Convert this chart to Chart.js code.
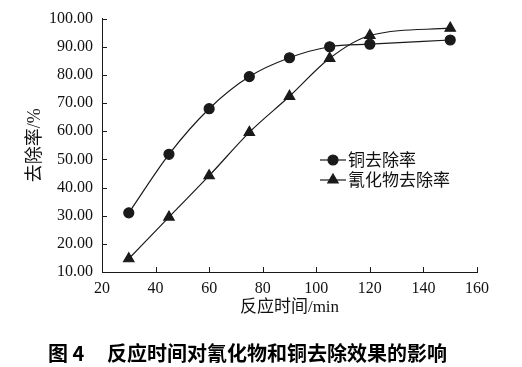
<!DOCTYPE html>
<html lang="zh">
  <head>
    <meta charset="UTF-8" />
    <title>反应时间对氰化物和铜去除效果的影响</title>
    <style>
      html, body { margin: 0; padding: 0; background: #fff; }
      #wrap { width: 522px; height: 367px; }
    </style>
  </head>
  <body>
    <div id="wrap"><canvas id="myChart" width="522" height="367"></canvas></div>
    <script src="https://cdn.jsdelivr.net/npm/chart.js"></script>
    <script>
      // reaction time, min
      const times = [30, 45, 60, 75, 90, 105, 120, 150];
      // removal rate, %
      const copperRate = [31.0, 51.8, 68.0, 79.4, 86.1, 90.0, 90.9, 92.4];
      const cyanideRate = [14.7, 29.5, 44.2, 59.6, 72.4, 85.9, 94.0, 96.6];
      const seriesNames = ["铜去除率", "氰化物去除率"];
      const xTicks = [20, 40, 60, 80, 100, 120, 140, 160];
      const yTicks = [10, 20, 30, 40, 50, 60, 70, 80, 90, 100];

      const serif = '"Liberation Serif", "Noto Sans CJK SC", serif';
      const ink = "#1a1a1a";

      const toPoints = (vals) => times.map((t, i) => ({ x: t, y: vals[i] }));

      // small inward ticks on both axes + legend inside the plot
      const decor = {
        id: "decor",
        afterDraw: (chart) => {
          const ctx = chart.ctx;
          const xs = chart.scales.x;
          const ys = chart.scales.y;
          const area = chart.chartArea;
          ctx.save();
          ctx.strokeStyle = ink;
          ctx.lineWidth = 1;
          ctx.beginPath();
          xTicks.forEach((v) => {
            const px = Math.round(xs.getPixelForValue(v)) + 0.5;
            ctx.moveTo(px, area.bottom);
            ctx.lineTo(px, area.bottom - 5);
          });
          yTicks.forEach((v) => {
            const py = Math.round(ys.getPixelForValue(v)) + 0.5;
            ctx.moveTo(area.left, py);
            ctx.lineTo(area.left + 5, py);
          });
          ctx.stroke();

          // legend
          const lx = 320;
          let ly = 160;
          chart.data.datasets.forEach((ds) => {
            ctx.strokeStyle = ink;
            ctx.lineWidth = 1.2;
            ctx.beginPath();
            ctx.moveTo(lx, ly);
            ctx.lineTo(lx + 26, ly);
            ctx.stroke();
            ctx.fillStyle = ink;
            Chart.helpers.drawPoint(
              ctx,
              { pointStyle: ds.pointStyle, radius: ds.pointRadius, rotation: 0, borderWidth: 1 },
              lx + 13,
              ly
            );
            ctx.fillStyle = "#111";
            ctx.font = '17px "Noto Sans CJK SC"';
            ctx.textBaseline = "middle";
            ctx.fillText(ds.label, lx + 28, ly);
            ly += 20;
          });
          ctx.restore();
        },
      };

      const ctx = document.getElementById("myChart").getContext("2d");
      let myChart = new Chart(ctx, {
        type: "line",
        plugins: [decor],
        data: {
          datasets: [
            {
              label: seriesNames[0],
              data: toPoints(copperRate),
              borderColor: ink,
              backgroundColor: ink,
              borderWidth: 1.2,
              pointStyle: "circle",
              pointRadius: 5,
              cubicInterpolationMode: "monotone",
            },
            {
              label: seriesNames[1],
              data: toPoints(cyanideRate),
              borderColor: ink,
              backgroundColor: ink,
              borderWidth: 1.2,
              pointStyle: "triangle",
              pointRadius: 6,
              cubicInterpolationMode: "monotone",
            },
          ],
        },
        options: {
          responsive: false,
          animation: false,
          layout: { padding: { left: 18, right: 45, top: 13, bottom: 0 } },
          scales: {
            x: {
              type: "linear",
              min: 20,
              max: 160,
              afterBuildTicks: (scale) => {
                scale.ticks = xTicks.map((v) => ({ value: v }));
              },
              afterFit: (scale) => {
                scale.height = 46;
              },
              grid: { display: false, drawTicks: false },
              border: { display: true, color: ink, width: 1 },
              ticks: { color: "#111", padding: 7, font: { family: serif, size: 16 } },
              title: {
                display: true,
                text: "反应时间/min",
                color: "#111",
                padding: { top: 0, bottom: 0 },
                font: { family: serif, size: 17 },
              },
            },
            y: {
              min: 10,
              max: 100,
              afterBuildTicks: (scale) => {
                scale.ticks = yTicks.map((v) => ({ value: v }));
              },
              afterFit: (scale) => {
                scale.width = 84;
              },
              grid: { display: false, drawTicks: false },
              border: { display: true, color: ink, width: 1 },
              ticks: {
                color: "#111",
                padding: 9,
                font: { family: serif, size: 16 },
                callback: (v) => Number(v).toFixed(2),
              },
              title: {
                display: true,
                text: "去除率/%",
                color: "#111",
                padding: { top: 6, bottom: 0 },
                font: { family: serif, size: 18 },
              },
            },
          },
          plugins: {
            legend: { display: false },
            tooltip: { enabled: false },
            title: {
              display: true,
              position: "bottom",
              text: "图 4     反应时间对氰化物和铜去除效果的影响",
              color: "#000",
              font: { family: '"Noto Sans CJK SC"', size: 20, weight: "bold" },
              padding: { top: 23, bottom: 2 },
            },
          },
        },
      });
    </script>
  </body>
</html>
